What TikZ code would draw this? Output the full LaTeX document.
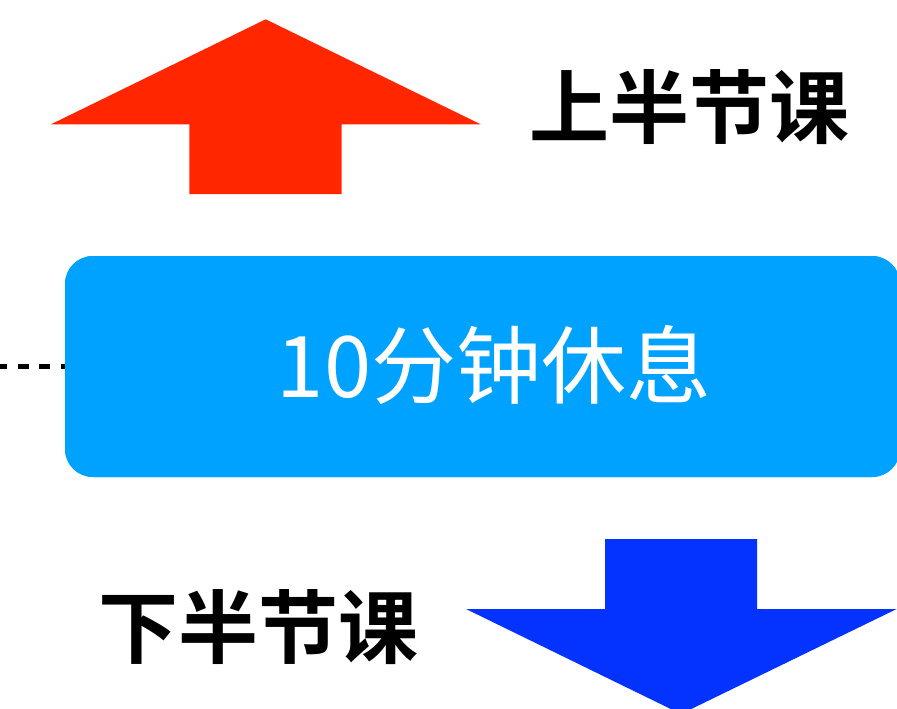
\documentclass[tikz,border=0pt]{standalone}
\usepackage{fontspec}
\newfontfamily\cjk[BoldFont={Noto Sans CJK SC Bold}]{Noto Sans CJK SC}
\definecolor{upred}{HTML}{FF2600}
\definecolor{downblue}{HTML}{0433FF}
\definecolor{boxblue}{HTML}{00A2FF}
\tikzset{
  bigarrow/.style={draw=none},
  labeltext/.style={font=\cjk\bfseries\fontsize{80}{80}\selectfont, text=black, inner sep=0pt},
  breaktext/.style={font=\cjk\fontsize{85}{85}\selectfont, text=white, inner sep=0pt},
  breakbox/.style={rectangle, rounded corners=28pt, fill=boxblue, draw=none, minimum width=835pt, minimum height=221pt, inner sep=0pt},
  dotline/.style={line width=4.5pt, dash pattern=on 10.7pt off 10.7pt, dash phase=3.4pt}
}
\begin{document}
\begin{tikzpicture}[x=1pt,y=-1pt]
\useasboundingbox (0,0) rectangle (897,709);
\clip (0,0) rectangle (897,709);
% red up arrow
\fill[upred, bigarrow] (265.7,19.3) -- (480.7,124.3) -- (341.7,124.3) -- (341.7,194) -- (189.3,194) -- (189.3,124.3) -- (51,124.3) -- cycle;
% blue down arrow
\fill[downblue, bigarrow] (605,539) -- (757,539) -- (757,609) -- (896.7,609) -- (681,714) -- (466,609) -- (605,609) -- cycle;
% dotted connector
\coordinate (dl) at (0,366.5);
\node[breakbox] (box) at (482.5,366.5) {};
\draw[dotline] (dl) -- (box.west);
\node[breakbox] at (box.center) {};
\node[breaktext] (brk) at (494,365) {10分钟休息};
\node[labeltext] (up) at (689,107) {上半节课};
\node[labeltext] (down) at (258.5,627) {下半节课};
\end{tikzpicture}
\end{document}
